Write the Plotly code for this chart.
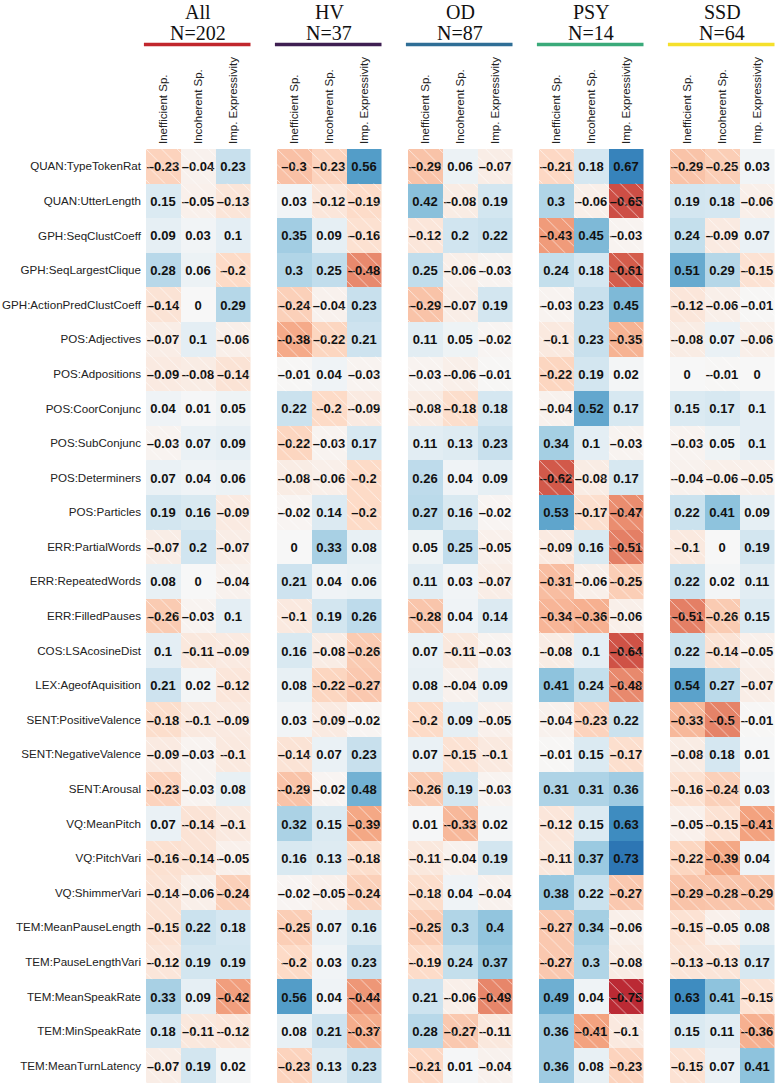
import plotly.graph_objects as go

features = ["QUAN:TypeTokenRat", "QUAN:UtterLength", "GPH:SeqClustCoeff", "GPH:SeqLargestClique",
            "GPH:ActionPredClustCoeff", "POS:Adjectives", "POS:Adpositions", "POS:CoorConjunc",
            "POS:SubConjunc", "POS:Determiners", "POS:Particles", "ERR:PartialWords",
            "ERR:RepeatedWords", "ERR:FilledPauses", "COS:LSAcosineDist", "LEX:AgeofAquisition",
            "SENT:PositiveValence", "SENT:NegativeValence", "SENT:Arousal", "VQ:MeanPitch",
            "VQ:PitchVari", "VQ:ShimmerVari", "TEM:MeanPauseLength", "TEM:PauseLengthVari",
            "TEM:MeanSpeakRate", "TEM:MinSpeakRate", "TEM:MeanTurnLatency"]
symptoms = ["Inefficient Sp.", "Incoherent Sp.", "Imp. Expressivity"]
groups = ["All", "HV", "OD", "PSY", "SSD"]
group_n = [202, 37, 87, 14, 64]
group_colors = ["#c1272d", "#3f1f52", "#2f6e96", "#3aaa7a", "#f5e02b"]

# rows = features, columns = symptoms
all_vals = [[-0.23, -0.04, 0.23], [0.15, -0.05, -0.13], [0.09, 0.03, 0.1], [0.28, 0.06, -0.2],
            [-0.14, 0, 0.29], [-0.07, 0.1, -0.06], [-0.09, -0.08, -0.14], [0.04, 0.01, 0.05],
            [-0.03, 0.07, 0.09], [0.07, 0.04, 0.06], [0.19, 0.16, -0.09], [-0.07, 0.2, -0.07],
            [0.08, 0, -0.04], [-0.26, -0.03, 0.1], [0.1, -0.11, -0.09], [0.21, 0.02, -0.12],
            [-0.18, -0.1, -0.09], [-0.09, -0.03, -0.1], [-0.23, -0.03, 0.08], [0.07, -0.14, -0.1],
            [-0.16, -0.14, -0.05], [-0.14, -0.06, -0.24], [-0.15, 0.22, 0.18], [-0.12, 0.19, 0.19],
            [0.33, 0.09, -0.42], [0.18, -0.11, -0.12], [-0.07, 0.19, 0.02]]
hv_vals = [[-0.3, -0.23, 0.56], [0.03, -0.12, -0.19], [0.35, 0.09, -0.16], [0.3, 0.25, -0.48],
           [-0.24, -0.04, 0.23], [-0.38, -0.22, 0.21], [-0.01, 0.04, -0.03], [0.22, -0.2, -0.09],
           [-0.22, -0.03, 0.17], [-0.08, -0.06, -0.2], [-0.02, 0.14, -0.2], [0, 0.33, 0.08],
           [0.21, 0.04, 0.06], [-0.1, 0.19, 0.26], [0.16, -0.08, -0.26], [0.08, -0.22, -0.27],
           [0.03, -0.09, -0.02], [-0.14, 0.07, 0.23], [-0.29, -0.02, 0.48], [0.32, 0.15, -0.39],
           [0.16, 0.13, -0.18], [-0.02, -0.05, -0.24], [-0.25, 0.07, 0.16], [-0.2, 0.03, 0.23],
           [0.56, 0.04, -0.44], [0.08, 0.21, -0.37], [-0.23, 0.13, 0.23]]
od_vals = [[-0.29, 0.06, -0.07], [0.42, -0.08, 0.19], [-0.12, 0.2, 0.22], [0.25, -0.06, -0.03],
           [-0.29, -0.07, 0.19], [0.11, 0.05, -0.02], [-0.03, -0.06, -0.01], [-0.08, -0.18, 0.18],
           [0.11, 0.13, 0.23], [0.26, 0.04, 0.09], [0.27, 0.16, -0.02], [0.05, 0.25, -0.05],
           [0.11, 0.03, -0.07], [-0.28, 0.04, 0.14], [0.07, -0.11, -0.03], [0.08, -0.04, 0.09],
           [-0.2, 0.09, -0.05], [0.07, -0.15, -0.1], [-0.26, 0.19, -0.03], [0.01, -0.33, 0.02],
           [-0.11, -0.04, 0.19], [-0.18, 0.04, -0.04], [-0.25, 0.3, 0.4], [-0.19, 0.24, 0.37],
           [0.21, -0.06, -0.49], [0.28, -0.27, -0.11], [-0.21, 0.01, -0.04]]
psy_vals = [[-0.21, 0.18, 0.67], [0.3, -0.06, -0.65], [-0.43, 0.45, -0.03], [0.24, 0.18, -0.61],
            [-0.03, 0.23, 0.45], [-0.1, 0.23, -0.35], [-0.22, 0.19, 0.02], [-0.04, 0.52, 0.17],
            [0.34, 0.1, -0.03], [-0.62, -0.08, 0.17], [0.53, -0.17, -0.47], [-0.09, 0.16, -0.51],
            [-0.31, -0.06, -0.25], [-0.34, -0.36, -0.06], [-0.08, 0.1, -0.64], [0.41, 0.24, -0.48],
            [-0.04, -0.23, 0.22], [-0.01, 0.15, -0.17], [0.31, 0.31, 0.36], [-0.12, 0.15, 0.63],
            [-0.11, 0.37, 0.73], [0.38, 0.22, -0.27], [-0.27, 0.34, -0.06], [-0.27, 0.3, -0.08],
            [0.49, 0.04, -0.75], [0.36, -0.41, -0.1], [0.36, 0.08, -0.23]]
ssd_vals = [[-0.29, -0.25, 0.03], [0.19, 0.18, -0.06], [0.24, -0.09, 0.07], [0.51, 0.29, -0.15],
            [-0.12, -0.06, -0.01], [-0.08, 0.07, -0.06], [0, -0.01, 0], [0.15, 0.17, 0.1],
            [-0.03, 0.05, 0.1], [-0.04, -0.06, -0.05], [0.22, 0.41, 0.09], [-0.1, 0, 0.19],
            [0.22, 0.02, 0.11], [-0.51, -0.26, 0.15], [0.22, -0.14, -0.05], [0.54, 0.27, -0.07],
            [-0.33, -0.5, -0.01], [-0.08, 0.18, 0.01], [-0.16, -0.24, 0.03], [-0.05, -0.15, -0.41],
            [-0.22, -0.39, 0.04], [-0.29, -0.28, -0.29], [-0.15, -0.05, 0.08], [-0.13, -0.13, 0.17],
            [0.63, 0.41, -0.15], [0.15, 0.11, -0.36], [-0.15, 0.07, 0.41]]
group_vals = [all_vals, hv_vals, od_vals, psy_vals, ssd_vals]

rdbu = ["#67001f", "#b2182b", "#d6604d", "#f4a582", "#fddbc7", "#f7f7f7",
        "#d1e5f0", "#92c5de", "#4393c3", "#2166ac", "#053061"]
colorscale = [[i / 10, c] for i, c in enumerate(rdbu)]

W, H = 777, 1085
left0, step, gw = 146, 131, 104.5
ytop, ybot = 149, 1083

fig = go.Figure()
xs = list(range(len(symptoms)))
ys = list(range(len(features)))

for i, (g, vals) in enumerate(zip(groups, group_vals)):
    ax = "" if i == 0 else str(i + 1)
    text = [[f"{v:g}".replace("-", "\u2013") for v in row] for row in vals]
    fig.add_trace(go.Heatmap(
        z=vals, x=xs, y=ys, text=text, texttemplate="<b>%{text}</b>",
        textfont=dict(family="Liberation Sans", size=13, color="#111"),
        colorscale=colorscale, zmin=-1, zmax=1, showscale=False,
        hoverinfo="skip", xaxis="x" + ax, yaxis="y" + ax))

    # hatching on negative cells
    hx, hb = [], []
    for r, row in enumerate(vals):
        for c, v in enumerate(row):
            if v < 0:
                hx.append(c)
                hb.append(r - 0.5)
    fig.add_trace(go.Bar(
        x=hx, y=[1] * len(hx), base=hb, width=1,
        marker=dict(color="rgba(0,0,0,0)", line=dict(width=0),
                    pattern=dict(shape="\\", fillmode="replace", fgcolor="white",
                                 bgcolor="rgba(0,0,0,0)", fgopacity=0.65,
                                 size=11, solidity=0.08)),
        hoverinfo="skip", showlegend=False, xaxis="x" + ax, yaxis="y" + ax))

    x0 = (left0 + step * i) / W
    fig.update_layout({
        "xaxis" + ax: dict(domain=[x0, x0 + gw / W], range=[-0.5, 2.5], side="top",
                           tickmode="array", tickvals=xs, ticktext=symptoms, tickangle=-90,
                           ticks="", showgrid=False, zeroline=False, showline=False,
                           ticklabelstandoff=4, automargin=False,
                           tickfont=dict(family="Liberation Sans", size=11.5, color="#222"),
                           anchor="y" + ax),
        "yaxis" + ax: dict(domain=[1 - ybot / H, 1 - ytop / H], range=[26.5, -0.5],
                           tickmode="array", tickvals=ys, ticktext=features,
                           showticklabels=(i == 0), ticks="", showgrid=False,
                           zeroline=False, showline=False, ticklabelstandoff=4,
                           automargin=False,
                           tickfont=dict(family="Liberation Sans", size=11.6, color="#222"),
                           anchor="x" + ax),
    })

    fig.add_annotation(text=g, xref="x" + ax + " domain", x=0.5, yref="paper", y=1 - 12 / H,
                       showarrow=False, yanchor="middle",
                       font=dict(family="Liberation Serif", size=20, color="#111"))
    fig.add_annotation(text=f"N={group_n[i]}", xref="x" + ax + " domain", x=0.5, yref="paper",
                       y=1 - 33 / H, showarrow=False, yanchor="middle",
                       font=dict(family="Liberation Serif", size=20, color="#111"))
    fig.add_shape(type="line", xref="x" + ax + " domain", x0=-0.02, x1=1.0, yref="paper",
                  y0=1 - 44.5 / H, y1=1 - 44.5 / H,
                  line=dict(color=group_colors[i], width=3.5))

fig.update_layout(width=W, height=H, margin=dict(l=0, r=0, t=0, b=0),
                  paper_bgcolor="white", plot_bgcolor="white", barmode="overlay",
                  showlegend=False)

fig.write_html("out.html", config={"displayModeBar": False},
               post_script="document.body.style.margin='0';")
